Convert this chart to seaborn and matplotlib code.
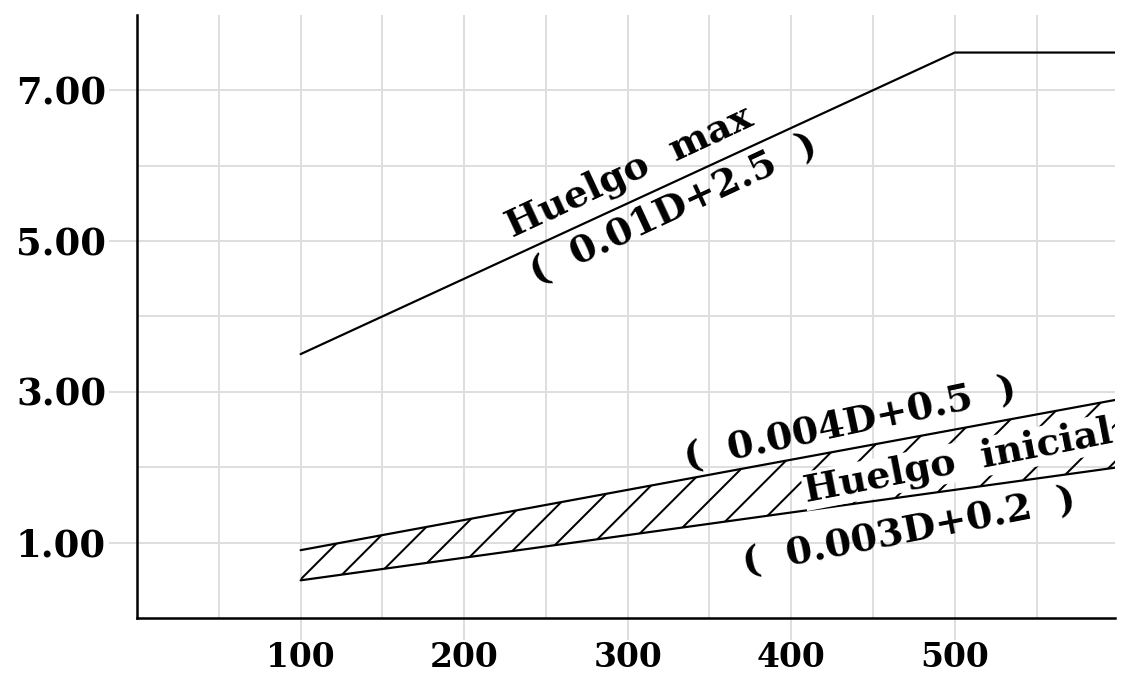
import matplotlib
matplotlib.use("Agg")
import matplotlib.pyplot as plt
import matplotlib.ticker as mticker
import seaborn as sb
import pandas as pd

# datos
d_max = [100, 500, 600]
huelgo_max = [3.5, 7.5, 7.5]
d_ini = [100, 600]
ini_inf = [0.5, 2.0]     # 0.003D+0.2
ini_sup = [0.9, 2.9]     # 0.004D+0.5

x_ticks = [100, 200, 300, 400, 500]
y_ticks = [1, 3, 5, 7]
x_grid = [50, 150, 250, 350, 450, 550]
y_grid = [2, 4, 6]

DPI = 220
PX = 72.0 / DPI  # 1 px en puntos

sb.set_style("white")
plt.rcParams["font.family"] = ["DejaVu Serif"]
plt.rcParams["text.color"] = "black"
plt.rcParams["xtick.labelcolor"] = "black"
plt.rcParams["ytick.labelcolor"] = "black"
plt.rcParams["hatch.linewidth"] = 2.0 * PX
plt.rcParams["hatch.color"] = "black"

fig = plt.figure(figsize=(1128 / DPI, 675 / DPI), dpi=DPI)
ax = fig.add_axes([0.1215, 0.0844, 0.8670, 0.8936])

t_max = pd.DataFrame({"D": d_max, "h": huelgo_max})
sb.lineplot(data=t_max, x="D", y="h", color="black", lw=2.2 * PX, ax=ax, zorder=3)

t_ini = pd.DataFrame({"D": d_ini, "inf": ini_inf, "sup": ini_sup})
sb.lineplot(data=t_ini, x="D", y="inf", color="black", lw=2.2 * PX, ax=ax, zorder=3)
sb.lineplot(data=t_ini, x="D", y="sup", color="black", lw=2.2 * PX, ax=ax, zorder=3)
ax.fill_between(t_ini["D"], t_ini["inf"], t_ini["sup"], facecolor="none",
                edgecolor="black", hatch="//", lw=0, zorder=2)

ax.set_xlim(0, 598)
ax.set_ylim(0, 8)
ax.xaxis.set_major_locator(mticker.FixedLocator(x_ticks))
ax.yaxis.set_major_locator(mticker.FixedLocator(y_ticks))
ax.xaxis.set_minor_locator(mticker.FixedLocator(x_grid))
ax.yaxis.set_minor_locator(mticker.FixedLocator(y_grid))
ax.yaxis.set_major_formatter(mticker.FormatStrFormatter("%.2f"))
ax.grid(True, which="both", color="#dedede", lw=2 * PX, zorder=0)
ax.set_axisbelow(True)
ax.tick_params(which="major", width=2 * PX, color="#dedede", labelsize=37 * PX,
               labelcolor="black")
ax.tick_params(axis="y", which="major", length=28 * PX, pad=3 * PX, left=True)
ax.tick_params(axis="x", which="major", length=22 * PX, pad=1 * PX, bottom=True,
               labelsize=33 * PX)
ax.tick_params(which="minor", length=0)
for lab in ax.get_xticklabels():
    lab.set_fontweight("bold")
for lab in ax.get_yticklabels():
    lab.set_fontweight("bold")
ax.set_xlabel("")
ax.set_ylabel("")

for s in ["top", "right"]:
    ax.spines[s].set_visible(False)
for s in ["left", "bottom"]:
    ax.spines[s].set_color("black")
    ax.spines[s].set_linewidth(2.5 * PX)
    ax.spines[s].set_zorder(4)

fs = 38 * PX
ax.text(301, 5.92, "Huelgo  max", rotation=25, fontsize=fs, fontweight="bold",
        color="black", ha="center", va="center", rotation_mode="anchor", zorder=5)
ax.text(328, 5.42, "(  0.01D+2.5  )", rotation=25, fontsize=fs, fontweight="bold",
        color="black", ha="center", va="center", rotation_mode="anchor", zorder=5)
ax.text(436, 2.57, "(  0.004D+0.5  )", rotation=12, fontsize=fs, fontweight="bold",
        color="black", ha="center", va="center", rotation_mode="anchor", zorder=5)
ax.text(502, 2.07, "Huelgo  inicial", rotation=11, fontsize=fs, fontweight="bold",
        color="black", ha="center", va="center", rotation_mode="anchor", zorder=5,
        bbox=dict(facecolor="white", edgecolor="none", pad=0.3))
ax.text(472, 1.15, "(  0.003D+0.2  )", rotation=11, fontsize=fs, fontweight="bold",
        color="black", ha="center", va="center", rotation_mode="anchor", zorder=5)

fig.savefig("out.png", dpi=DPI, facecolor="white")
